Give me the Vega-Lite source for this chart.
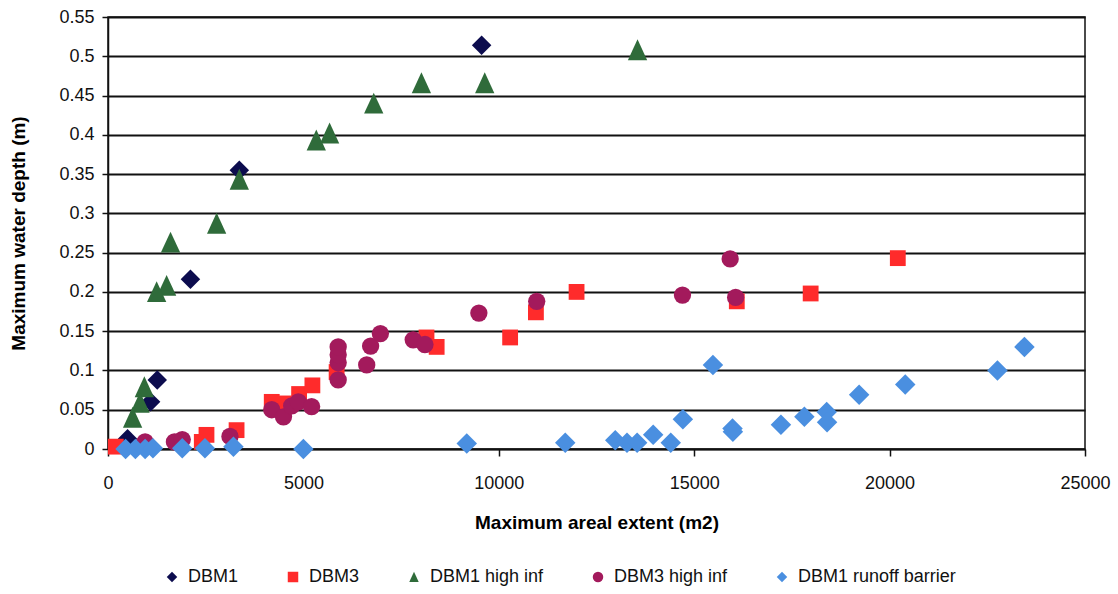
{
  "$schema": "https://vega.github.io/schema/vega-lite/v6.json",
  "width": 977,
  "height": 432,
  "autosize": "none",
  "padding": {"left": 108, "top": 17, "right": 33, "bottom": 145},
  "background": "white",
  "config": {
    "font": "Liberation Sans",
    "view": {"stroke": "#111111", "strokeWidth": 1.5},
    "axis": {"labelColor": "#111111", "titleColor": "#000000", "labelFont": "Liberation Sans", "titleFont": "Liberation Sans"}
  },
  "data": {
    "values": [
      {"series": "DBM1", "area": 9560, "depth": 0.514},
      {"series": "DBM1", "area": 3360, "depth": 0.355},
      {"series": "DBM1", "area": 2110, "depth": 0.216},
      {"series": "DBM1", "area": 1260, "depth": 0.088},
      {"series": "DBM1", "area": 1090, "depth": 0.060},
      {"series": "DBM1", "area": 500, "depth": 0.013},
      {"series": "DBM3", "area": 200, "depth": 0.003},
      {"series": "DBM3", "area": 2400, "depth": 0.009},
      {"series": "DBM3", "area": 2520, "depth": 0.018},
      {"series": "DBM3", "area": 3290, "depth": 0.024},
      {"series": "DBM3", "area": 4190, "depth": 0.060},
      {"series": "DBM3", "area": 4500, "depth": 0.058},
      {"series": "DBM3", "area": 4890, "depth": 0.070},
      {"series": "DBM3", "area": 5230, "depth": 0.081},
      {"series": "DBM3", "area": 5850, "depth": 0.098},
      {"series": "DBM3", "area": 8150, "depth": 0.142},
      {"series": "DBM3", "area": 8410, "depth": 0.130},
      {"series": "DBM3", "area": 10290, "depth": 0.142},
      {"series": "DBM3", "area": 10950, "depth": 0.174},
      {"series": "DBM3", "area": 11990, "depth": 0.200},
      {"series": "DBM3", "area": 16090, "depth": 0.188},
      {"series": "DBM3", "area": 17980, "depth": 0.198},
      {"series": "DBM3", "area": 20210, "depth": 0.243},
      {"series": "DBM1 high inf", "area": 13550, "depth": 0.508},
      {"series": "DBM1 high inf", "area": 9640, "depth": 0.466},
      {"series": "DBM1 high inf", "area": 8020, "depth": 0.466},
      {"series": "DBM1 high inf", "area": 6800, "depth": 0.440},
      {"series": "DBM1 high inf", "area": 5670, "depth": 0.402},
      {"series": "DBM1 high inf", "area": 5330, "depth": 0.393},
      {"series": "DBM1 high inf", "area": 3360, "depth": 0.343},
      {"series": "DBM1 high inf", "area": 2780, "depth": 0.287},
      {"series": "DBM1 high inf", "area": 1600, "depth": 0.263},
      {"series": "DBM1 high inf", "area": 1500, "depth": 0.208},
      {"series": "DBM1 high inf", "area": 1245, "depth": 0.200},
      {"series": "DBM1 high inf", "area": 930, "depth": 0.079},
      {"series": "DBM1 high inf", "area": 820, "depth": 0.059},
      {"series": "DBM1 high inf", "area": 630, "depth": 0.040},
      {"series": "DBM3 high inf", "area": 950, "depth": 0.009},
      {"series": "DBM3 high inf", "area": 1700, "depth": 0.009},
      {"series": "DBM3 high inf", "area": 1900, "depth": 0.012},
      {"series": "DBM3 high inf", "area": 3120, "depth": 0.016},
      {"series": "DBM3 high inf", "area": 4190, "depth": 0.050},
      {"series": "DBM3 high inf", "area": 4490, "depth": 0.041},
      {"series": "DBM3 high inf", "area": 4700, "depth": 0.055},
      {"series": "DBM3 high inf", "area": 4870, "depth": 0.060},
      {"series": "DBM3 high inf", "area": 5210, "depth": 0.054},
      {"series": "DBM3 high inf", "area": 5890, "depth": 0.088},
      {"series": "DBM3 high inf", "area": 5890, "depth": 0.110},
      {"series": "DBM3 high inf", "area": 5890, "depth": 0.120},
      {"series": "DBM3 high inf", "area": 5890, "depth": 0.130},
      {"series": "DBM3 high inf", "area": 6620, "depth": 0.107},
      {"series": "DBM3 high inf", "area": 6720, "depth": 0.131},
      {"series": "DBM3 high inf", "area": 6970, "depth": 0.147},
      {"series": "DBM3 high inf", "area": 7810, "depth": 0.139},
      {"series": "DBM3 high inf", "area": 8110, "depth": 0.133},
      {"series": "DBM3 high inf", "area": 9490, "depth": 0.173},
      {"series": "DBM3 high inf", "area": 10970, "depth": 0.188},
      {"series": "DBM3 high inf", "area": 14700, "depth": 0.196},
      {"series": "DBM3 high inf", "area": 16060, "depth": 0.193},
      {"series": "DBM3 high inf", "area": 15920, "depth": 0.242},
      {"series": "DBM1 runoff barrier", "area": 450, "depth": 0.000},
      {"series": "DBM1 runoff barrier", "area": 700, "depth": 0.000},
      {"series": "DBM1 runoff barrier", "area": 950, "depth": 0.000},
      {"series": "DBM1 runoff barrier", "area": 1150, "depth": 0.001},
      {"series": "DBM1 runoff barrier", "area": 1900, "depth": 0.001},
      {"series": "DBM1 runoff barrier", "area": 2480, "depth": 0.001},
      {"series": "DBM1 runoff barrier", "area": 3210, "depth": 0.003},
      {"series": "DBM1 runoff barrier", "area": 5000, "depth": 0.000},
      {"series": "DBM1 runoff barrier", "area": 9180, "depth": 0.007},
      {"series": "DBM1 runoff barrier", "area": 11700, "depth": 0.008},
      {"series": "DBM1 runoff barrier", "area": 12980, "depth": 0.011},
      {"series": "DBM1 runoff barrier", "area": 13280, "depth": 0.008},
      {"series": "DBM1 runoff barrier", "area": 13540, "depth": 0.008},
      {"series": "DBM1 runoff barrier", "area": 13950, "depth": 0.018},
      {"series": "DBM1 runoff barrier", "area": 14400, "depth": 0.008},
      {"series": "DBM1 runoff barrier", "area": 14710, "depth": 0.038},
      {"series": "DBM1 runoff barrier", "area": 15480, "depth": 0.107},
      {"series": "DBM1 runoff barrier", "area": 15980, "depth": 0.026},
      {"series": "DBM1 runoff barrier", "area": 15990, "depth": 0.022},
      {"series": "DBM1 runoff barrier", "area": 17220, "depth": 0.031},
      {"series": "DBM1 runoff barrier", "area": 17820, "depth": 0.041},
      {"series": "DBM1 runoff barrier", "area": 18390, "depth": 0.047},
      {"series": "DBM1 runoff barrier", "area": 18400, "depth": 0.034},
      {"series": "DBM1 runoff barrier", "area": 19220, "depth": 0.069},
      {"series": "DBM1 runoff barrier", "area": 20400, "depth": 0.082},
      {"series": "DBM1 runoff barrier", "area": 22760, "depth": 0.100},
      {"series": "DBM1 runoff barrier", "area": 23450, "depth": 0.130}
    ]
  },
  "encoding": {
    "x": {
      "field": "area", "type": "quantitative",
      "scale": {"domain": [0, 25000], "nice": false, "zero": false},
      "axis": {
        "title": "Maximum areal extent (m2)",
        "values": [0, 5000, 10000, 15000, 20000, 25000],
        "format": "d",
        "grid": false,
        "domainColor": "#111111", "domainWidth": 1.5,
        "tickColor": "#111111", "tickWidth": 1.5, "tickSize": 7,
        "labelFontSize": 18, "labelPadding": 18, "labelFlush": false,
        "titleFontSize": 19, "titleFontWeight": "bold", "titlePadding": 21
      }
    },
    "y": {
      "field": "depth", "type": "quantitative",
      "scale": {"domain": [0, 0.55], "nice": false, "zero": false},
      "axis": {
        "title": "Maximum water depth (m)",
        "values": [0, 0.05, 0.1, 0.15, 0.2, 0.25, 0.3, 0.35, 0.4, 0.45, 0.5, 0.55],
        "format": ".2~f",
        "grid": true, "gridColor": "#111111", "gridWidth": 2, "gridOpacity": 1,
        "domainColor": "#111111", "domainWidth": 1.5,
        "tickColor": "#111111", "tickWidth": 1.5, "tickSize": 6,
        "labelFontSize": 18, "labelPadding": 8, "labelFlush": false,
        "titleFontSize": 19, "titleFontWeight": "bold", "titlePadding": 30
      }
    },
    "color": {
      "field": "series", "type": "nominal",
      "scale": {
        "domain": ["DBM1", "DBM3", "DBM1 high inf", "DBM3 high inf", "DBM1 runoff barrier"],
        "range": ["#0c0c4e", "#ff2b2b", "#2f6b3a", "#a31a5c", "#4a8fe0"]
      },
      "legend": {
        "title": null,
        "orient": "none",
        "legendX": 55,
        "legendY": 551,
        "direction": "horizontal",
        "columns": 5,
        "columnPadding": 45,
        "symbolSize": 110,
        "symbolStrokeWidth": 0,
        "labelFontSize": 18,
        "labelColor": "#111111",
        "labelOffset": 7,
        "labelLimit": 300
      }
    },
    "shape": {
      "field": "series", "type": "nominal",
      "scale": {
        "domain": ["DBM1", "DBM3", "DBM1 high inf", "DBM3 high inf", "DBM1 runoff barrier"],
        "range": ["diamond", "square", "M0,-1L-0.9,0.95L0.9,0.95Z", "circle", "diamond"]
      }
    }
  },
  "layer": [
    {"transform": [{"filter": "datum.series === 'DBM1'"}], "mark": {"type": "point", "filled": true, "opacity": 1, "strokeWidth": 0, "size": 380}},
    {"transform": [{"filter": "datum.series === 'DBM3'"}], "mark": {"type": "point", "filled": true, "opacity": 1, "strokeWidth": 0, "size": 250}},
    {"transform": [{"filter": "datum.series === 'DBM1 high inf'"}], "mark": {"type": "point", "filled": true, "opacity": 1, "strokeWidth": 0, "size": 460}},
    {"transform": [{"filter": "datum.series === 'DBM3 high inf'"}], "mark": {"type": "point", "filled": true, "opacity": 1, "strokeWidth": 0, "size": 300}},
    {"transform": [{"filter": "datum.series === 'DBM1 runoff barrier'"}], "mark": {"type": "point", "filled": true, "opacity": 1, "strokeWidth": 0, "size": 420}}
  ]
}
